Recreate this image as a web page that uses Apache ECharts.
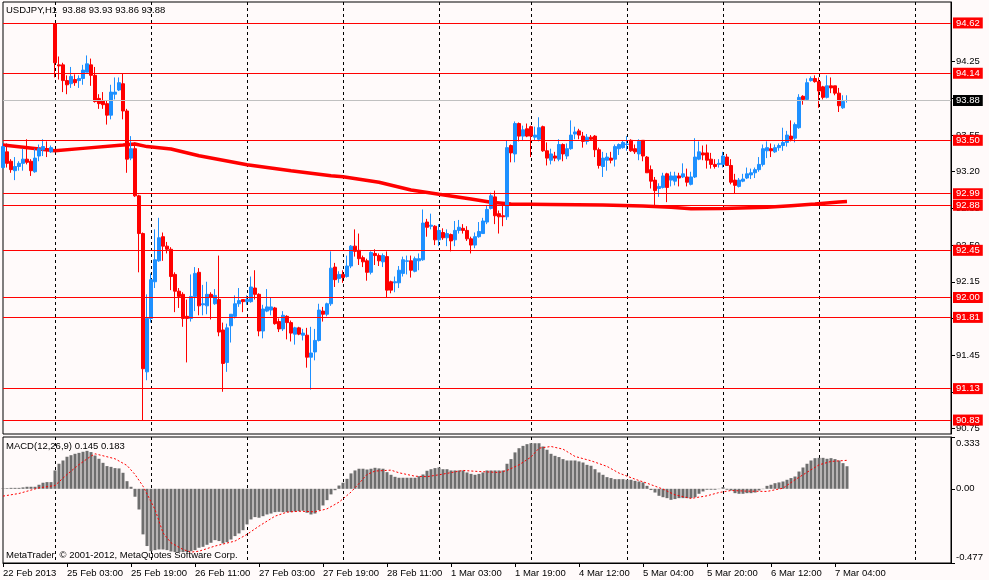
<!DOCTYPE html>
<html><head><meta charset="utf-8">
<script src="https://cdn.jsdelivr.net/npm/echarts@6/dist/echarts.min.js"></script>
<style>html,body{margin:0;padding:0;background:#fffafa}#c{width:989px;height:580px}</style>
</head><body><div id="c"></div>
<script>
// trading sessions: [day, first hour, last hour]
const sessions = [['22 Feb',11,23],['25 Feb',0,23],['26 Feb',0,23],['27 Feb',0,23],['28 Feb',0,23],['1 Mar',0,22],['4 Mar',0,23],['5 Mar',0,23],['6 Mar',0,23],['7 Mar',0,23],['8 Mar',0,9]];
const timeTickLabels = ['22 Feb 2013','25 Feb 03:00','25 Feb 19:00','26 Feb 11:00','27 Feb 03:00','27 Feb 19:00','28 Feb 11:00','1 Mar 03:00','1 Mar 19:00','4 Mar 12:00','5 Mar 04:00','5 Mar 20:00','6 Mar 12:00','7 Mar 04:00'];
const priceTicks = [94.25,93.90,93.55,93.20,92.85,92.50,92.15,91.80,91.45,91.10,90.75];
const macdTicks = [0.333,0,-0.477];
const levelLines = [94.62,94.14,93.50,92.99,92.88,92.45,92.00,91.81,91.13,90.83];
const bidPrice = 93.88;

// OHLC bars [open, high, low, close]
const feb22 = [[93.24,93.47,93.23,93.44],[93.39,93.47,93.24,93.28],[93.30,93.32,93.19,93.22],[93.21,93.34,93.12,93.25],[93.25,93.30,93.21,93.28],[93.28,93.42,93.21,93.32],[93.32,93.51,93.27,93.29],[93.30,93.32,93.16,93.21],[93.20,93.42,93.19,93.33],[93.35,93.46,93.30,93.42],[93.41,93.51,93.35,93.44],[93.42,93.49,93.34,93.41],[93.39,93.45,93.38,93.43]];
const feb25 = [[94.61,94.61,94.10,94.24],[94.22,94.30,94.08,94.21],[94.22,94.24,93.96,94.07],[94.07,94.12,93.94,94.03],[94.04,94.20,94.00,94.11],[94.08,94.13,94.02,94.05],[94.07,94.12,94.00,94.09],[94.09,94.22,94.03,94.17],[94.15,94.31,94.15,94.23],[94.22,94.28,94.02,94.12],[94.12,94.20,93.86,93.87],[93.90,93.94,93.80,93.85],[93.88,93.96,93.80,93.84],[93.85,93.88,93.65,93.74],[93.74,94.03,93.70,93.96],[93.94,94.10,93.89,93.96],[93.98,94.10,93.97,94.05],[94.04,94.14,93.70,93.78],[93.78,93.80,93.19,93.32],[93.33,93.54,93.31,93.42],[93.42,93.48,92.96,92.97],[92.97,92.98,92.24,92.61],[92.61,92.62,90.83,91.32],[91.29,92.03,91.21,91.80]];
const feb26 = [[91.80,92.23,91.76,92.17],[92.15,92.65,92.09,92.36],[92.35,92.76,92.34,92.57],[92.58,92.62,92.35,92.49],[92.49,92.53,92.42,92.46],[92.46,92.48,92.07,92.20],[92.22,92.24,91.86,92.06],[92.06,92.09,91.90,92.01],[92.03,92.05,91.72,91.80],[91.82,91.98,91.38,91.80],[91.80,92.22,91.77,92.01],[92.01,92.29,91.87,92.23],[92.24,92.28,91.83,91.92],[91.93,92.12,91.83,91.94],[91.92,92.15,91.84,92.03],[92.03,92.05,91.79,92.00],[91.94,92.08,91.93,92.02],[91.98,92.40,91.63,91.67],[91.69,91.76,91.10,91.37],[91.38,91.75,91.29,91.71],[91.73,91.84,91.57,91.84],[91.82,92.02,91.80,91.94],[91.94,92.09,91.91,91.97],[91.98,91.98,91.86,91.96]];
const feb27 = [[91.96,92.02,91.93,91.98],[91.96,92.20,91.95,92.10],[92.09,92.26,91.98,92.03],[92.03,92.04,91.63,91.68],[91.68,91.93,91.61,91.89],[91.87,92.08,91.86,91.91],[91.88,92.00,91.83,91.91],[91.90,91.91,91.74,91.75],[91.77,91.80,91.67,91.70],[91.70,91.87,91.68,91.83],[91.82,91.83,91.60,91.76],[91.76,91.78,91.58,91.66],[91.65,91.72,91.55,91.71],[91.71,91.72,91.64,91.65],[91.64,91.70,91.59,91.66],[91.64,91.71,91.33,91.43],[91.43,91.72,91.12,91.47],[91.48,91.70,91.40,91.59],[91.59,91.94,91.58,91.88],[91.87,91.91,91.77,91.84],[91.84,91.95,91.82,91.94],[91.94,92.44,91.92,92.28],[92.29,92.33,92.10,92.17],[92.18,92.25,92.14,92.22]];
const feb28 = [[92.22,92.26,92.14,92.19],[92.20,92.40,92.19,92.30],[92.30,92.50,92.28,92.49],[92.49,92.65,92.39,92.44],[92.45,92.61,92.31,92.37],[92.38,92.40,92.29,92.34],[92.35,92.37,92.16,92.24],[92.24,92.44,92.22,92.43],[92.42,92.46,92.31,92.40],[92.40,92.42,92.30,92.35],[92.34,92.42,92.29,92.40],[92.39,92.44,92.00,92.07],[92.15,92.16,92.04,92.07],[92.14,92.20,92.05,92.15],[92.14,92.30,92.09,92.26],[92.23,92.39,92.20,92.36],[92.345,92.40,92.22,92.35],[92.35,92.40,92.19,92.26],[92.25,92.39,92.24,92.37],[92.35,92.42,92.26,92.37],[92.36,92.84,92.35,92.71],[92.72,92.75,92.58,92.67],[92.68,92.80,92.65,92.69],[92.68,92.69,92.50,92.55]];
const mar1 = [[92.55,92.70,92.49,92.64],[92.62,92.66,92.55,92.57],[92.57,92.65,92.49,92.61],[92.60,92.61,92.44,92.54],[92.55,92.73,92.49,92.64],[92.64,92.74,92.61,92.67],[92.66,92.70,92.61,92.64],[92.64,92.68,92.54,92.56],[92.56,92.58,92.42,92.50],[92.50,92.62,92.47,92.58],[92.58,92.72,92.57,92.63],[92.61,92.76,92.61,92.73],[92.72,92.88,92.70,92.84],[92.85,93.00,92.84,92.97],[92.96,93.02,92.70,92.78],[92.80,92.83,92.61,92.77],[92.78,92.88,92.68,92.77],[92.77,93.50,92.74,93.43],[93.45,93.46,93.29,93.38],[93.37,93.68,93.29,93.66],[93.66,93.67,93.49,93.54],[93.54,93.64,93.50,93.60],[93.61,93.66,93.53,93.54]];
const mar4 = [[93.63,93.64,93.34,93.54],[93.53,93.63,93.50,93.55],[93.51,93.72,93.49,93.62],[93.63,93.64,93.39,93.40],[93.40,93.48,93.26,93.33],[93.31,93.42,93.27,93.37],[93.35,93.39,93.30,93.33],[93.32,93.51,93.30,93.46],[93.46,93.47,93.30,93.37],[93.35,93.47,93.32,93.42],[93.42,93.69,93.41,93.55],[93.56,93.63,93.51,93.58],[93.59,93.61,93.51,93.55],[93.54,93.58,93.43,93.49],[93.49,93.56,93.46,93.53],[93.53,93.55,93.50,93.51],[93.54,93.55,93.34,93.41],[93.41,93.43,93.23,93.26],[93.25,93.39,93.15,93.33],[93.31,93.38,93.21,93.34],[93.33,93.39,93.28,93.31],[93.32,93.46,93.25,93.44],[93.42,93.47,93.36,93.46],[93.43,93.50,93.42,93.48]];
const mar5 = [[93.46,93.54,93.40,93.465],[93.50,93.51,93.39,93.40],[93.42,93.46,93.37,93.39],[93.37,93.51,93.31,93.49],[93.50,93.50,93.30,93.35],[93.34,93.35,93.19,93.19],[93.22,93.26,93.04,93.11],[93.12,93.15,92.88,93.02],[93.04,93.09,92.96,93.06],[93.05,93.19,93.04,93.16],[93.18,93.19,92.91,93.05],[93.12,93.20,93.06,93.16],[93.11,93.20,93.07,93.16],[93.16,93.19,93.06,93.14],[93.15,93.28,93.14,93.18],[93.15,93.23,93.06,93.10],[93.08,93.20,93.07,93.15],[93.15,93.52,93.14,93.34],[93.32,93.49,93.31,93.39],[93.38,93.45,93.31,93.36],[93.38,93.46,93.23,93.31],[93.32,93.38,93.23,93.27],[93.27,93.32,93.23,93.25],[93.27,93.32,93.24,93.28]];
const mar6 = [[93.27,93.39,93.24,93.35],[93.34,93.37,93.26,93.26],[93.26,93.32,93.08,93.10],[93.12,93.18,92.99,93.07],[93.06,93.14,93.05,93.12],[93.11,93.18,93.10,93.13],[93.14,93.24,93.13,93.18],[93.17,93.23,93.13,93.19],[93.19,93.24,93.14,93.22],[93.22,93.34,93.20,93.27],[93.27,93.46,93.25,93.42],[93.40,93.49,93.33,93.43],[93.42,93.47,93.34,93.40],[93.39,93.46,93.38,93.43],[93.43,93.47,93.40,93.45],[93.45,93.62,93.40,93.48],[93.48,93.59,93.44,93.55],[93.54,93.69,93.49,93.51],[93.52,93.67,93.48,93.65],[93.62,93.94,93.61,93.91],[93.92,93.93,93.84,93.89],[93.89,94.09,93.89,94.05],[94.07,94.11,94.06,94.09],[94.09,94.12,94.05,94.06]];
const mar7 = [[94.06,94.10,93.81,93.97],[94.01,94.02,93.89,93.91],[93.91,94.12,93.90,94.02],[94.02,94.10,93.95,94.00],[94.02,94.02,93.93,93.95],[93.95,94.00,93.77,93.83],[93.81,93.93,93.80,93.87],[93.88,93.93,93.86,93.88]];

// MACD(12,26,9) main values (histogram) per day
const macdFeb22 = [0.004,0.004,0.006,0.006,0.006,0.009,0.013,0.013,0.013,0.026,0.039,0.043,0.043];
const macdFeb25 = [0.118,0.161,0.182,0.206,0.216,0.225,0.231,0.238,0.244,0.236,0.214,0.193,0.167,0.146,0.141,0.133,0.131,0.103,0.049,0.013,-0.051,-0.133,-0.293,-0.368];
const macdFeb26 = [-0.401,-0.394,-0.390,-0.390,-0.394,-0.403,-0.407,-0.407,-0.407,-0.405,-0.401,-0.394,-0.379,-0.373,-0.360,-0.347,-0.330,-0.336,-0.351,-0.343,-0.326,-0.304,-0.287,-0.266];
const macdFeb27 = [-0.229,-0.197,-0.182,-0.186,-0.176,-0.165,-0.159,-0.150,-0.148,-0.150,-0.150,-0.150,-0.146,-0.144,-0.141,-0.154,-0.165,-0.159,-0.137,-0.107,-0.073,-0.036,-0.009,0.021];
const macdFeb28 = [0.039,0.064,0.099,0.118,0.129,0.129,0.124,0.129,0.135,0.131,0.129,0.107,0.090,0.077,0.071,0.071,0.071,0.071,0.071,0.081,0.092,0.116,0.126,0.133];
const macdMar1 = [0.137,0.126,0.126,0.118,0.118,0.118,0.118,0.105,0.096,0.090,0.096,0.105,0.118,0.118,0.118,0.118,0.118,0.161,0.191,0.234,0.261,0.276,0.287];
const macdMar4 = [0.293,0.293,0.293,0.272,0.251,0.225,0.212,0.204,0.191,0.182,0.182,0.182,0.176,0.169,0.154,0.148,0.126,0.105,0.090,0.075,0.069,0.062,0.062,0.062];
const macdMar5 = [0.058,0.058,0.051,0.047,0.041,0.019,-0.008,-0.024,-0.045,-0.054,-0.060,-0.071,-0.066,-0.060,-0.060,-0.060,-0.060,-0.054,-0.032,-0.017,-0.006,-0.006,-0.006,-0.002];
const macdMar6 = [0.011,-0.006,-0.011,-0.028,-0.032,-0.032,-0.028,-0.028,-0.024,-0.011,-0.002,0.019,0.026,0.036,0.041,0.047,0.058,0.069,0.079,0.111,0.137,0.161,0.182,0.197];
const macdMar7 = [0.199,0.199,0.193,0.197,0.191,0.182,0.165,0.145];

// signal line, read at [bar index, value]
const signalPoints = [[0,-0.047],[4,-0.030],[9,0.006],[13,0.021],[16,0.092],[19,0.156],[22,0.210],[23,0.225],[26,0.206],[28,0.193],[31,0.150],[33,0.092],[35,0.017],[38,-0.133],[40,-0.283],[42,-0.347],[45,-0.390],[47,-0.407],[49,-0.401],[53,-0.368],[58,-0.336],[61,-0.293],[64,-0.240],[68,-0.176],[71,-0.150],[74,-0.144],[78,-0.148],[81,-0.129],[84,-0.086],[87,-0.021],[89,0.034],[91,0.092],[93,0.114],[97,0.120],[99,0.103],[103,0.081],[106,0.078],[109,0.090],[115,0.118],[119,0.111],[124,0.105],[126,0.118],[129,0.154],[132,0.204],[134,0.261],[137,0.272],[140,0.255],[143,0.208],[147,0.180],[151,0.144],[154,0.101],[158,0.062],[161,0.036],[165,-0.002],[168,-0.039],[172,-0.062],[176,-0.045],[179,-0.024],[182,-0.011],[186,-0.015],[191,-0.017],[195,0.004],[198,0.058],[202,0.122],[204,0.154],[207,0.176],[211,0.183]];

// moving average, read at [bar index, price]
const maPoints = [[0,93.455],[13,93.40],[20,93.423],[30,93.455],[33,93.465],[36,93.44],[42,93.417],[49,93.353],[61,93.267],[72,93.21],[82,93.162],[85,93.153],[94,93.099],[102,93.026],[109,92.985],[117,92.94],[122,92.908],[127,92.892],[137,92.888],[150,92.882],[160,92.874],[167,92.862],[172,92.846],[180,92.848],[191,92.860],[197,92.876],[203,92.892],[209,92.912],[211,92.917]];

const categories = [];
sessions.forEach(([d, h0, h1]) => { for (let h = h0; h <= h1; h++) categories.push(d + ' ' + String(h).padStart(2, '0') + ':00'); });
const bars = [].concat(feb22, feb25, feb26, feb27, feb28, mar1, mar4, mar5, mar6, mar7).map(([o, h, l, c]) => [o, c, l, h]);
const macd = [].concat(macdFeb22, macdFeb25, macdFeb26, macdFeb27, macdFeb28, macdMar1, macdMar4, macdMar5, macdMar6, macdMar7);

const FONT = 'Liberation Sans, Arial, sans-serif';
const FS = 9.5;
const isDayStart = (i) => !!categories[i] && categories[i].endsWith(' 00:00');
const isTimeTick = (i) => i % 16 === 0 && i / 16 < timeTickLabels.length;
const daySplit = { show: true, interval: isDayStart, lineStyle: { color: '#000', type: [3, 3], width: 1 } };
const redLine = { color: '#ff0000', width: 1, type: 'solid', opacity: 1 };

const chart = echarts.init(document.getElementById('c'), null, { renderer: 'canvas' });
chart.setOption({
  animation: false,
  backgroundColor: '#fffafa',
  grid: [
    { left: 3, top: 2, width: 948, height: 432, show: true, borderColor: '#000', borderWidth: 1, backgroundColor: 'transparent' },
    { left: 3, top: 437, width: 948, height: 126, show: true, borderColor: '#000', borderWidth: 1, backgroundColor: 'transparent' }
  ],
  xAxis: [
    { gridIndex: 0, type: 'category', data: categories, boundaryGap: false, axisLine: { show: false }, axisTick: { show: false }, axisLabel: { show: false }, splitLine: daySplit },
    { gridIndex: 1, type: 'category', data: categories, boundaryGap: false,
      axisLine: { show: true, onZero: false, lineStyle: { color: '#000', width: 1 } },
      axisTick: { show: true, interval: isTimeTick, length: 4, lineStyle: { color: '#000' } },
      axisLabel: { show: true, interval: isTimeTick, formatter: (v, i) => timeTickLabels[i / 16], align: 'left', margin: 5, fontSize: FS, fontFamily: FONT, color: '#000' },
      splitLine: daySplit }
  ],
  yAxis: [
    { gridIndex: 0, type: 'value', position: 'right', min: 90.697, max: 94.82, scale: true,
      axisLine: { show: true, lineStyle: { color: '#000' } },
      axisTick: { show: true, customValues: priceTicks, length: 4, lineStyle: { color: '#000' } },
      axisLabel: { show: true, customValues: priceTicks, formatter: (v) => v.toFixed(2), margin: 5, fontSize: FS, fontFamily: FONT, color: '#000' },
      splitLine: { show: false } },
    { gridIndex: 1, type: 'value', position: 'right', min: -0.477, max: 0.333,
      axisLine: { show: true, lineStyle: { color: '#000' } },
      axisTick: { show: true, customValues: macdTicks, length: 4, lineStyle: { color: '#000' } },
      axisLabel: { show: true, customValues: macdTicks, margin: 5, fontSize: FS, fontFamily: FONT, color: '#000',
        formatter: (v) => v > 0 ? '{t|' + v.toFixed(3) + '}' : (v < 0 ? '{b|' + v.toFixed(3) + '}' : '{m|0.00}'),
        rich: { t: { fontSize: FS, fontFamily: FONT, color: '#000', lineHeight: 22, verticalAlign: 'bottom' },
                b: { fontSize: FS, fontFamily: FONT, color: '#000', lineHeight: 22, verticalAlign: 'top' },
                m: { fontSize: FS, fontFamily: FONT, color: '#000' } } },
      splitLine: { show: false } }
  ],
  series: [
    { type: 'line', name: 'MA', xAxisIndex: 0, yAxisIndex: 0, data: maPoints, showSymbol: false, symbol: 'none', z: 1,
      lineStyle: { color: '#ff0000', width: 3.5 } },
    { type: 'candlestick', name: 'USDJPY', xAxisIndex: 0, yAxisIndex: 0, data: bars, barWidth: 3, z: 3, clip: true,
      itemStyle: { color: '#1e90ff', color0: '#ff0000', borderColor: '#1e90ff', borderColor0: '#ff0000', borderColorDoji: '#1e90ff', borderWidth: 1 },
      markLine: {
        silent: true, symbol: ['none', 'none'], animation: false, z: 4,
        label: { show: true, position: 'end', distance: 2, formatter: (p) => Number(p.value).toFixed(2), color: '#fff', backgroundColor: '#ff0000', padding: [1, 3, 0, 3], fontSize: FS, fontFamily: FONT, lineHeight: 10 },
        lineStyle: redLine,
        data: levelLines.map((v) => ({ yAxis: v, lineStyle: redLine })).concat([{ yAxis: bidPrice, lineStyle: { color: '#c0c0c0', width: 1, type: 'solid', opacity: 1 }, label: { backgroundColor: '#000', color: '#fff' } }])
      } },
    { type: 'bar', name: 'MACD', xAxisIndex: 1, yAxisIndex: 1, data: macd, barWidth: 3, itemStyle: { color: '#6e6e6e' }, z: 2 },
    { type: 'line', name: 'Signal', xAxisIndex: 1, yAxisIndex: 1, data: signalPoints, showSymbol: false, symbol: 'none', z: 3,
      lineStyle: { color: '#ff0000', width: 1, type: [2, 2] } }
  ],
  graphic: [
    { type: 'text', left: 6, top: 5, z: 100, style: { text: 'USDJPY,H1  93.88 93.93 93.86 93.88', fill: '#000', font: FS + 'px ' + FONT } },
    { type: 'text', left: 6, top: 441, z: 100, style: { text: 'MACD(12,26,9) 0.145 0.183', fill: '#000', font: FS + 'px ' + FONT } },
    { type: 'text', left: 6, top: 550, z: 100, style: { text: 'MetaTrader, © 2001-2012, MetaQuotes Software Corp.', fill: '#000', font: FS + 'px ' + FONT } }
  ]
});
</script>
</body></html>
